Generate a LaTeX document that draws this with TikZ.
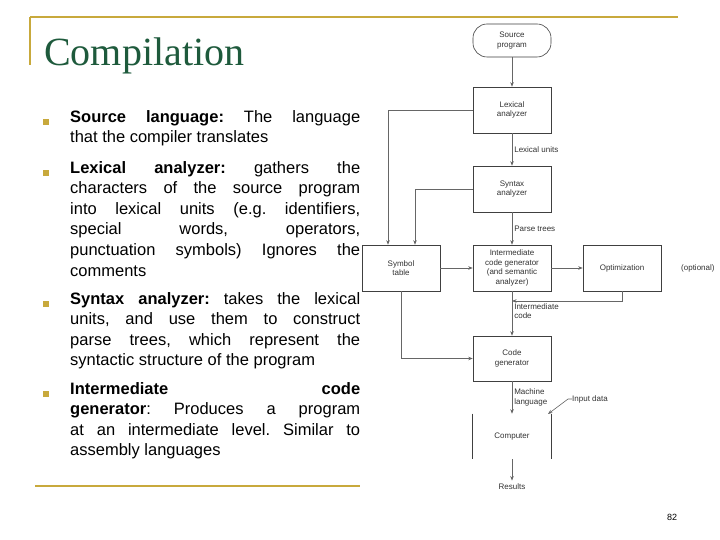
\documentclass[tikz,border=0pt]{standalone}
\usepackage{fontspec}
\setmainfont{Liberation Sans}
\newfontfamily\titlefont{Liberation Serif}
\usetikzlibrary{arrows.meta}
\definecolor{gold}{HTML}{C8A93C}
\definecolor{ttl}{HTML}{1E5A3C}
\newcommand{\bodyset}{\fontsize{16.5}{20.6}\selectfont\hyphenpenalty 10000 \exhyphenpenalty 10000 \frenchspacing}
\begin{document}
\begin{tikzpicture}[x=1pt,y=-1pt,
  box/.style={draw=black!75,line width=0.6pt,minimum width=78pt,minimum height=46pt,inner sep=1pt,align=center,font=\fontsize{8}{9.5}\selectfont,text=black!80},
  lbl/.style={font=\fontsize{8}{9.5}\selectfont,text=black!80,align=left,anchor=west,inner sep=0pt},
  conn/.style={draw=black!60,line width=0.6pt,-{Stealth[length=4.5pt,width=3.5pt]}},
  bul/.style={fill=gold,minimum size=6pt,inner sep=0pt},
  body/.style={anchor=north west,inner sep=0pt,text width=290pt,align=justify,font=\bodyset}]
\useasboundingbox (0,0) rectangle (720,540);
\fill[white] (0,0) rectangle (720,540);
% frame lines
\draw[gold,line width=1.8pt] (30,17) -- (678,17);
\draw[gold,line width=1.8pt] (30,17) -- (30,65);
\draw[gold,line width=1.5pt] (35,486) -- (360,486);
\node[anchor=base west,inner sep=0pt,text=ttl,font=\titlefont\fontsize{40}{42}\selectfont] (title) at (44,66) {Compilation};
% bullets
\node[bul] (b1) at (46,122) {};
\node[bul] (b2) at (46,173) {};
\node[bul] (b3) at (46,304) {};
\node[bul] (b4) at (46,394) {};
\node[body] (t1) at (70,110) {\textbf{Source language:} The language\linebreak that the compiler translates};
\node[body] (t2) at (70,161) {\textbf{Lexical analyzer:} gathers the\linebreak characters of the source program\linebreak into lexical units (e.g. identifiers,\linebreak special words, operators,\linebreak punctuation symbols) Ignores the\linebreak comments};
\node[body] (t3) at (70,292) {\textbf{Syntax analyzer:} takes the lexical\linebreak units, and use them to construct\linebreak parse trees, which represent the\linebreak syntactic structure of the program};
\node[body] (t4) at (70,382) {\textbf{Intermediate code\linebreak generator}: Produces a program\linebreak at an intermediate level. Similar to\linebreak assembly languages};
% diagram
\node[box,rounded corners=14pt,minimum height=33pt] (src) at (512,40.5) {Source\\program};
\node[box] (lex) at (512,110) {Lexical\\analyzer};
\node[box] (syn) at (512,189) {Syntax\\analyzer};
\node[box] (icg) at (512,268) {Intermediate\\code generator\\(and semantic\\analyzer)};
\node[box] (opt) at (622,268) {Optimization};
\node[box] (sym) at (401,268) {Symbol\\table};
\node[box,minimum height=45pt] (cg) at (512,358.5) {Code\\generator};
\node[box,draw=none,minimum height=45pt] (comp) at (512,436.5) {Computer};
\draw[black!75,line width=0.6pt] (comp.north west) -- (comp.south west) (comp.north east) -- (comp.south east);
\node[font=\fontsize{8}{9.5}\selectfont,text=black!80] (res) at (512,487) {Results};
\node[lbl] (opl) at (681,268) {(optional)};
\node[font=\fontsize{9}{10}\selectfont] (pg) at (672,517) {82};
\draw[conn] (src) -- (lex);
\draw[conn] (lex) -- node[lbl,right=2pt] {Lexical units} (syn);
\draw[conn] (syn) -- node[lbl,right=2pt] {Parse trees} (icg);
\draw[conn] (icg) -- node[lbl,right=2pt,pos=0.45] {Intermediate\\code} (cg);
\draw[conn] (cg) -- node[lbl,right=2pt] {Machine\\language} (comp);
\draw[conn] (comp) -- (res);
\draw[conn] (lex.west) -| ([xshift=-13pt]sym.north);
\draw[conn] (syn.west) -| ([xshift=14pt]sym.north);
\draw[conn] (sym) -- (icg);
\draw[conn] (icg) -- (opt);
\draw[conn] (opt.south) |- (512,301);
\draw[conn] (sym.south) |- (cg.west);
\node[lbl] (inp) at (572,399) {Input data};
\coordinate (inpend) at (548,414);
\draw[conn] (inp.west) -- ++(-4,0) -- (inpend);
\end{tikzpicture}
\end{document}
